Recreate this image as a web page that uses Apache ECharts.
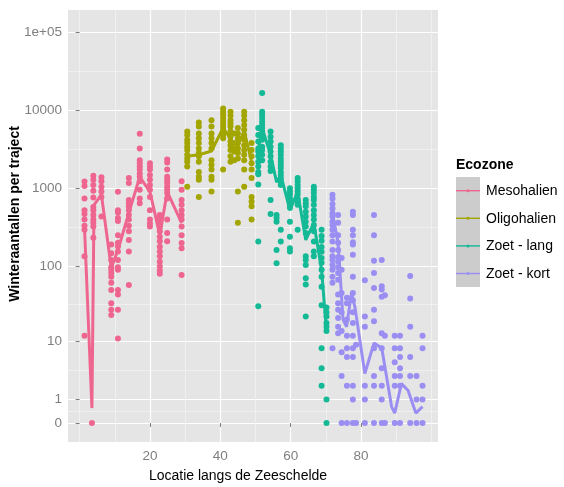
<!DOCTYPE html>
<html><head><meta charset="utf-8">
<script src="https://cdn.jsdelivr.net/npm/echarts@6/dist/echarts.min.js"></script>
<style>html,body{margin:0;padding:0;background:#fff}#c{width:564px;height:487px}</style>
</head><body><div id="c"></div>
<script>
// ---------- data (counts per location) ----------
const zoneNames = ['Mesohalien', 'Oligohalien', 'Zoet - lang', 'Zoet - kort'];
const zoneColors = ['#EE6690', '#A3A500', '#14B996', '#9A8EF2'];

const mesoX = [1.4, 3.5, 3.9, 6.2, 9.0, 10.9, 14.0, 17.1, 20.0, 22.8, 24.9, 29.0];
const mesoCounts = [
  [1219, 1072, 741, 525, 468, 398, 331, 295, 134, 12],
  [0],
  [1445, 1290, 1100, 930, 760, 575, 525, 455, 398, 362, 323, 233],
  [1380, 1230, 1050, 912, 776, 436],
  [190, 147, 120, 97, 90, 82, 73, 61, 49, 33, 27, 23],
  [905, 525, 490, 417, 380, 250, 200, 180, 155, 120, 97, 90, 49, 43, 27, 11],
  [1350, 1170, 710, 645, 590, 525, 455, 398, 331, 282, 218, 155, 57],
  [5000, 3240, 2290, 2090, 1900, 1740, 1550, 1410, 1230, 955, 741, 645],
  [2090, 1900, 1740, 1480, 1290, 1100, 955, 776, 525, 398, 355, 323],
  [455, 417, 372, 323, 282, 240, 209, 178, 155, 134, 114, 99, 88, 80],
  [2340, 2140, 1740, 1410, 1290, 1170, 1050, 955, 870, 741, 398, 268, 209],
  [1230, 955, 710, 616, 525, 455, 398, 323, 251, 199, 170, 77]
];
const mesoLineX = [1.4, 3.5, 4.1, 6.2, 9.0, 10.9, 14.0, 17.1, 20.0, 22.8, 24.9, 29.0];
const mesoLineY = [310, 0.55, 615, 830, 95, 162, 485, 1400, 900, 251, 905, 361];

const oliX = [30.6, 33.9, 37.5, 40.8, 42.9, 44.0, 45.0, 46.8, 48.9];
const oliCounts = [
  [5310, 4790, 4170, 3800, 3390, 3090, 2690, 2400, 2190, 1900, 1050],
  [6920, 6170, 5010, 4370, 3800, 3240, 2820, 2570, 2190, 1620, 1410, 1290, 776],
  [7410, 6170, 5010, 4370, 3800, 3240, 2290, 2000, 1740, 1410, 1290, 912],
  [10500, 9550, 8710, 7940, 7080, 6460, 5890, 5310, 4790, 4370, 1740],
  [9550, 8510, 7410, 6760, 6170, 5310, 4570, 3980, 3550, 3090, 2570, 2190],
  [5010, 3800, 2950, 2290],
  [5890, 5010, 4370, 3800, 3240, 2820, 2400, 912, 363],
  [9550, 8510, 7410, 6460, 5620, 4790, 4170, 3550, 3090, 2690, 2290, 1740, 1050],
  [3800, 3090, 2570, 2090, 1740, 1350, 776, 676, 589, 398]
];
const oliLineX = [30.6, 33.9, 37.5, 40.8, 42.9, 44.0, 45.0, 46.8, 48.9];
const oliLineY = [2570, 2680, 3000, 5900, 4360, 3090, 3560, 5400, 2180];

const langX = [50.8, 51.9, 54.3, 56.0, 57.2, 59.8, 62.0, 64.3, 66.6, 68.8, 70.2];
const langCounts = [
  [5890, 4790, 3980, 3240, 2950, 2570, 2190, 1900, 1620, 1510, 1120, 208, 30],
  [16600, 9550, 8710, 7940, 7080, 6460, 5890, 5310, 4790, 4170, 3390, 3090, 2690, 2290],
  [5310, 4570, 3980, 3390, 2950, 2570, 2190, 1900, 1660, 710, 468],
  [455, 417, 372, 162, 109],
  [3550, 3240, 2950, 2690, 2400, 2190, 2000, 1820, 1620, 1480, 1350, 1230, 1100, 294, 208],
  [1000, 912, 832, 741, 676, 616, 562, 372, 240, 170, 155],
  [1350, 1230, 1100, 1000, 912, 832, 741, 676, 616, 294],
  [710, 645, 589, 500, 436, 372, 323, 268, 134, 120, 104, 70, 58, 22],
  [1050, 955, 870, 776, 710, 616, 525, 455, 398, 338, 282, 208, 155, 134],
  [294, 245, 213, 177, 154, 128, 111, 90, 73, 54, 31, 8, 4, 2],
  [29, 25, 22, 18, 16, 14, 1, 0]
];
const langLineX = [50.8, 51.9, 54.3, 56.0, 57.2, 59.8, 62.0, 64.3, 66.6, 68.8, 70.2];
const langLineY = [3100, 5900, 2680, 1200, 1480, 525, 900, 218, 360, 90, 14];

const kortX = [71.9, 73.5, 74.5, 76.0, 77.7, 78.6, 81.1, 83.7, 85.9, 86.8, 89.6, 91.1, 94.0, 95.8, 97.5];
const kortCounts = [
  [830, 741, 630, 550, 478, 436, 372, 338, 294, 250, 208, 162, 134, 120, 104, 90, 73, 61, 8],
  [455, 362, 250, 200, 162, 131, 114, 97, 82, 67, 43, 33, 27, 21, 16, 13],
  [128, 90, 45, 25, 14, 7, 3, 0],
  [39, 33, 20, 12, 8, 6, 2, 0],
  [500, 455, 294, 250, 204, 190, 141, 73, 45, 36, 25, 18, 12, 8, 6, 2, 1, 0],
  [9, 0],
  [66, 22, 16, 2, 1, 0],
  [455, 251, 118, 82, 52, 27, 19, 8, 3, 2, 0],
  [120, 55, 50, 40, 13, 8, 4, 2, 1, 0],
  [42, 12, 0],
  [12, 8, 5, 3, 2, 0],
  [12, 8, 6, 4, 3, 2, 0],
  [75, 38, 16, 6, 3, 0],
  [3, 1, 0],
  [12, 8, 2, 1, 0]
];
const kortLineX = [71.9, 73.5, 74.9, 75.9, 77.3, 78.3, 81.1, 83.7, 85.9, 88.7, 89.6, 91.5, 93.4, 95.6, 97.5];
const kortLineY = [478, 198, 20, 16, 45, 29, 3.3, 9.5, 8.1, 0.62, 0.34, 2.2, 1.6, 0.34, 0.62];

const yTickValues = [0, 1, 10, 100, 1000, 10000, 100000];
const yTickLabels = ['0', '1', '10', '100', '1000', '10000', '1e+05'];
const xTickValues = [20, 40, 60, 80];
const xMinorValues = [0, 10, 30, 50, 70, 90, 100];

// ---------- helpers ----------
const tf = v => Math.log10(v + 1);   // log10(n + 1) scale of the y axis
const yTickPos = yTickValues.map(tf);
const yMinorPos = [];
for (let i = 0; i < yTickPos.length - 1; i++) yMinorPos.push((yTickPos[i] + yTickPos[i + 1]) / 2);

function pts(xs, cs) { const o = []; xs.forEach((x, i) => cs[i].forEach(v => o.push([x, tf(v)]))); return o; }
function ln(xs, ys) { return xs.map((x, i) => [x, tf(ys[i])]); }

const pointSets = [pts(mesoX, mesoCounts), pts(oliX, oliCounts), pts(langX, langCounts), pts(kortX, kortCounts)];
const lineSets = [ln(mesoLineX, mesoLineY), ln(oliLineX, oliLineY), ln(langLineX, langLineY), ln(kortLineX, kortLineY)];

const FONT = "'Liberation Sans', Arial, sans-serif";
const series = [];
pointSets.forEach((d, i) => series.push({
  name: zoneNames[i], type: 'scatter', data: d, symbol: 'circle', symbolSize: 6,
  itemStyle: { color: zoneColors[i], opacity: 1 }, z: 2, silent: true
}));
lineSets.forEach((d, i) => series.push({
  name: zoneNames[i], type: 'line', data: d, showSymbol: false, symbol: 'none',
  lineStyle: { color: zoneColors[i], width: 3 }, z: 3, silent: true
}));

// legend drawn as graphic
const legendG = [
  { type: 'text', left: 456, top: 158, style: { text: 'Ecozone', font: 'bold 14px ' + FONT, fill: '#000' } },
  { type: 'rect', shape: { x: 456, y: 177, width: 24, height: 110 }, style: { fill: '#CCCCCC' } }
];
zoneNames.forEach((n, i) => {
  const cy = 190.7 + i * 27.6;
  legendG.push({ type: 'line', shape: { x1: 456, y1: cy, x2: 480, y2: cy }, style: { stroke: zoneColors[i], lineWidth: 1.4 } });
  legendG.push({ type: 'circle', shape: { cx: 468, cy: cy, r: 1.5 }, style: { fill: zoneColors[i] } });
  legendG.push({ type: 'text', x: 486, y: cy + 0.5, style: { text: n, font: '14px ' + FONT, fill: '#000', textVerticalAlign: 'middle', textAlign: 'left' } });
});

const option = {
  animation: false,
  backgroundColor: '#FFFFFF',
  grid: { left: 68, top: 10, right: 126, bottom: 45, show: true, backgroundColor: '#E5E5E5', borderWidth: 0 },
  xAxis: [
    { type: 'value', min: -3.3, max: 101.9, axisLine: { show: false },
      axisTick: { show: true, customValues: xTickValues, length: 4, lineStyle: { color: '#7F7F7F' } },
      axisLabel: { customValues: xTickValues, color: '#7F7F7F', fontSize: 13.5, fontFamily: FONT, margin: 7 },
      splitLine: { show: true, lineStyle: { color: '#FFFFFF', width: 1.2 } } },
    { type: 'value', min: -3.3, max: 101.9, axisLine: { show: false },
      axisTick: { show: false, customValues: xMinorValues }, axisLabel: { show: false, customValues: xMinorValues },
      splitLine: { show: true, lineStyle: { color: '#F2F2F2', width: 0.8 } } }
  ],
  yAxis: [
    { type: 'value', min: -0.243, max: 5.28, axisLine: { show: false },
      axisTick: { show: true, customValues: yTickPos, length: 4, lineStyle: { color: '#7F7F7F' } },
      axisLabel: { customValues: yTickPos, color: '#7F7F7F', fontSize: 13.5, fontFamily: FONT, margin: 6,
        formatter: v => { const k = yTickPos.findIndex(p => Math.abs(p - v) < 1e-6); return k >= 0 ? yTickLabels[k] : ''; } },
      splitLine: { show: true, lineStyle: { color: '#FFFFFF', width: 1.2 } } },
    { type: 'value', min: -0.243, max: 5.28, axisLine: { show: false },
      axisTick: { show: false, customValues: yMinorPos }, axisLabel: { show: false, customValues: yMinorPos },
      splitLine: { show: true, lineStyle: { color: '#F2F2F2', width: 0.8 } } }
  ],
  series: series,
  graphic: [
    { type: 'text', x: 15, y: 214, rotation: Math.PI / 2,
      style: { text: 'Winteraantallen per traject', font: 'bold 14px ' + FONT, fill: '#000', textAlign: 'center', textVerticalAlign: 'middle' } },
    { type: 'text', x: 238, y: 476,
      style: { text: 'Locatie langs de Zeeschelde', font: '14px ' + FONT, fill: '#000', textAlign: 'center', textVerticalAlign: 'middle' } }
  ].concat(legendG)
};
const chart = echarts.init(document.getElementById('c'), null, { renderer: 'canvas' });
chart.setOption(option);
</script>
</body></html>
